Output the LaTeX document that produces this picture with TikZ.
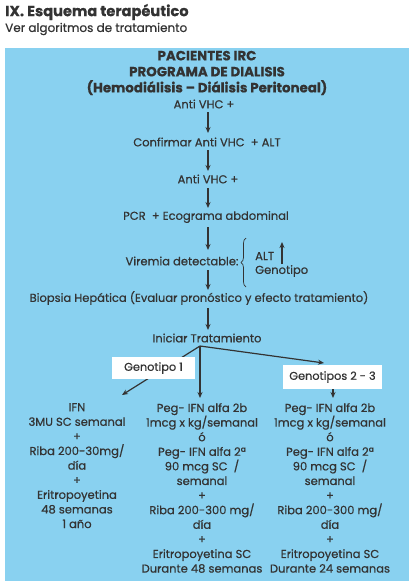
\documentclass[tikz,border=0pt]{standalone}
\usepackage{fontspec}
\setmainfont{Poppins}[RawFeature={embolden=0.6}]
\usetikzlibrary{arrows.meta,decorations.pathreplacing}
\definecolor{bgblue}{RGB}{137,209,240}
\definecolor{ink}{RGB}{51,51,51}
\tikzset{
  txt/.style={inner sep=0pt, text=ink, font=\fontsize{11.5}{14.6}\selectfont},
  col/.style={txt, align=center, anchor=north},
  ttl/.style={inner sep=0pt, text=ink, font=\fontsize{13.4}{16}\bfseries\selectfont, align=center},
  arr/.style={draw=ink, line width=1.2pt, -{Stealth[length=6pt,width=5pt]}},
  lbl/.style={fill=white, inner sep=0pt, minimum height=22pt, text=ink, font=\fontsize{11.3}{12}\selectfont},
}
\begin{document}
\begin{tikzpicture}[x=1pt,y=-1pt]
\useasboundingbox (0,0) rectangle (413,587);
\fill[bgblue] (5,48) rectangle (409,581);
\node[inner sep=0pt, anchor=west, text=ink, font=\fontsize{14.6}{16}\bfseries\selectfont] (h1) at (5,12) {IX. Esquema terapéutico};
\node[inner sep=0pt, anchor=west, text=ink, font=\fontsize{12}{14}\selectfont] (h2) at (5,29) {Ver algoritmos de tratamiento};
\node[ttl] (title) at (207,73) {PACIENTES IRC\\PROGRAMA DE DIALISIS\\(Hemodiálisis -- Diálisis Peritoneal)};
\node[txt] (a1) at (204,104) {Anti VHC +};
\node[txt] (a2) at (207,142) {Confirmar Anti VHC \ + ALT};
\node[txt] (a3) at (208,179) {Anti VHC +};
\node[txt] (a4) at (206,217) {PCR \ + Ecograma abdominal};
\node[txt] (a5) at (182,261) {Viremia detectable:};
\node[txt, anchor=west] (alt) at (255,256) {ALT};
\node[txt, anchor=west] (gen) at (255,271) {Genotipo};
\node[txt] (a6) at (199,298) {Biopsia Hepática (Evaluar pronóstico y efecto tratamiento)};
\node[txt] (a7) at (207,338) {Iniciar Tratamiento};
\draw[arr] (208,112) -- (208,133);
\draw[arr] (208,150) -- (208,171);
\draw[arr] (208,188) -- (208,208);
\draw[arr] (208,227) -- (208,250);
\draw[arr] (208,270) -- (208,290);
\draw[arr] (208,308) -- (208,330);
\draw[ink, line width=0.7pt, decorate, decoration={brace, amplitude=5pt}] (246,287) -- (246,238);
\coordinate (upb) at (282,264);
\coordinate (upt) at (282,242);
\draw[arr] (upb) -- (upt);
\coordinate (br) at (200,346);
\coordinate (lt) at (122,395);
\coordinate (rt) at (324,363);
\coordinate (mt) at (200,398);
\draw[arr] (br) -- (lt);
\draw[arr] (br) -- (mt);
\draw[arr] (br) -- (rt);
\node[lbl, minimum width=83pt] (g1) at (153.5,368) {Genotipo 1};
\node[lbl, minimum width=99pt, minimum height=24pt] (g2) at (332.5,377) {Genotipos 2 - 3};
\coordinate (g2t) at (333,398);
\draw[arr] (g2.south -| g2t) -- (g2t);
\node[col] (c1) at (77,403) {IFN\\3MU SC semanal\\+\\Riba 200-30mg/\\día\\+\\Eritropoyetina\\48 semanas\\1 año};
\node[col] (c2) at (202,403) {Peg- IFN alfa 2b\\1mcg x kg/semanal\\ó\\Peg- IFN alfa 2ª\\90 mcg SC \ /\\semanal\\+\\Riba 200-300 mg/\\día\\+\\Eritropoyetina SC\\Durante 48 semanas};
\node[col] (c3) at (330,403) {Peg- IFN alfa 2b\\1mcg x kg/semanal\\ó\\Peg- IFN alfa 2ª\\90 mcg SC \ /\\semanal\\+\\Riba 200-300 mg/\\día\\+\\Eritropoyetina SC\\Durante 24 semanas};
\end{tikzpicture}
\end{document}
